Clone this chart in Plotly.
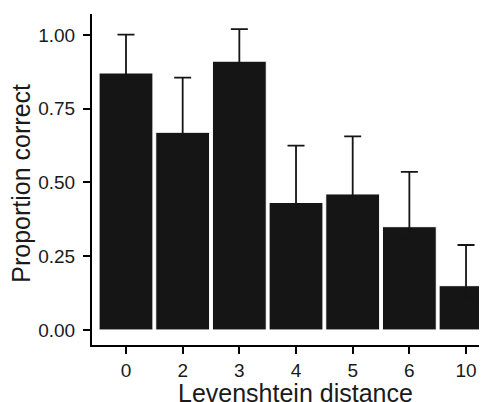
import plotly.graph_objects as go

categories = ["0", "2", "3", "4", "5", "6", "10"]
proportion = [0.871, 0.670, 0.911, 0.432, 0.461, 0.350, 0.150]
err_upper = [0.130, 0.185, 0.109, 0.193, 0.195, 0.186, 0.138]
y_ticks = [0.00, 0.25, 0.50, 0.75, 1.00]

FONT = "Liberation Sans, Arial, Helvetica, sans-serif"
TXT = "#1a1a1a"

fig = go.Figure(
    go.Bar(
        x=categories,
        y=proportion,
        width=0.95,
        marker=dict(color="#151515", line=dict(color="white", width=1)),
        error_y=dict(
            type="data",
            symmetric=False,
            array=err_upper,
            # lower whisker tucked inside the dark bar so only the upper part shows
            arrayminus=[0.04] * len(err_upper),
            color="#151515",
            thickness=1.8,
            width=8.5,
        ),
    )
)

# page body has an 8px default margin, so the figure is sized to fit the window
fig.update_layout(
    width=479,
    height=394,
    margin=dict(l=84, r=0, t=6, b=57, autoexpand=False),
    paper_bgcolor="white",
    plot_bgcolor="white",
    showlegend=False,
    font=dict(family=FONT, color=TXT),
)

axis_common = dict(
    showline=True,
    linecolor="black",
    linewidth=2,
    ticks="outside",
    ticklen=7,
    tickwidth=2,
    tickcolor="black",
    tickfont=dict(size=19, family=FONT, color=TXT),
    showgrid=False,
    zeroline=False,
    automargin=False,
)

fig.update_xaxes(type="category", range=[-0.6, 6.37], **axis_common)
fig.update_yaxes(range=[-0.051, 1.071], tickvals=y_ticks, tickformat=".2f",
                 ticklabelstandoff=4, **axis_common)

fig.add_annotation(
    text="Levenshtein distance",
    xref="paper", yref="paper",
    x=0.516, y=-0.145,
    xanchor="center", yanchor="middle",
    showarrow=False,
    font=dict(size=25, family=FONT, color=TXT),
)
fig.add_annotation(
    text="Proportion correct",
    xref="paper", yref="paper",
    x=-0.18, y=0.49,
    xanchor="center", yanchor="middle",
    textangle=-90,
    showarrow=False,
    font=dict(size=25, family=FONT, color=TXT),
)

fig.write_html("out.html")
